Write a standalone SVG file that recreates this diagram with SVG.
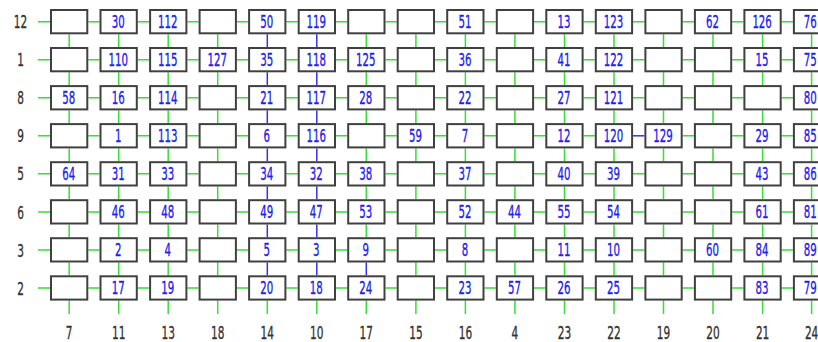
<svg xmlns="http://www.w3.org/2000/svg" width="818" height="342" viewBox="0 0 818 342">
<style>
.g{stroke:#33e033;stroke-width:1.5;fill:none}
.bl{stroke:#3333ee;stroke-width:1.5;fill:none}
.b{fill:#fff;stroke:#404040;stroke-width:2}
.t{font-family:"DejaVu Sans","Liberation Sans",sans-serif;font-size:17px;fill:#2020ee;stroke:#2020ee;stroke-width:.35;text-anchor:middle}
.l{font-family:"DejaVu Sans","Liberation Sans",sans-serif;font-size:17px;fill:#333;stroke:#333;stroke-width:.35;text-anchor:middle}
</style>
<rect width="818" height="342" fill="#fff"/>
<g id="connectors">
<path class="g" d="M38 21.7H50M88.3 21.7H99.5M137.8 21.7H149.1M187.4 21.7H198.6M236.9 21.7H248.1M286.4 21.7H297.7M336 21.7H347.2M385.5 21.7H396.7M435 21.7H446.2M484.5 21.7H495.8M534.1 21.7H545.3M583.6 21.7H594.8M633.1 21.7H644.4M682.7 21.7H693.9M732.2 21.7H743.4M781.7 21.7H792.9"/>
<path class="g" d="M38 59.7H50M88.3 59.7H99.5M137.8 59.7H149.1M187.4 59.7H198.6M236.9 59.7H248.1M286.4 59.7H297.7M336 59.7H347.2M385.5 59.7H396.7M435 59.7H446.2M484.5 59.7H495.8M534.1 59.7H545.3M583.6 59.7H594.8M633.1 59.7H644.4M682.7 59.7H693.9M732.2 59.7H743.4M781.7 59.7H792.9"/>
<path class="g" d="M38 97.7H50M88.3 97.7H99.5M137.8 97.7H149.1M187.4 97.7H198.6M236.9 97.7H248.1M286.4 97.7H297.7M336 97.7H347.2M385.5 97.7H396.7M435 97.7H446.2M484.5 97.7H495.8M534.1 97.7H545.3M583.6 97.7H594.8M633.1 97.7H644.4M682.7 97.7H693.9M732.2 97.7H743.4M781.7 97.7H792.9"/>
<path class="g" d="M38 135.8H50M88.3 135.8H99.5M137.8 135.8H149.1M187.4 135.8H198.6M236.9 135.8H248.1M286.4 135.8H297.7M336 135.8H347.2M385.5 135.8H396.7M435 135.8H446.2M484.5 135.8H495.8M534.1 135.8H545.3M583.6 135.8H594.8M682.7 135.8H693.9M732.2 135.8H743.4M781.7 135.8H792.9"/>
<path class="g" d="M38 173.8H50M88.3 173.8H99.5M137.8 173.8H149.1M187.4 173.8H198.6M236.9 173.8H248.1M286.4 173.8H297.7M336 173.8H347.2M385.5 173.8H396.7M435 173.8H446.2M484.5 173.8H495.8M534.1 173.8H545.3M583.6 173.8H594.8M633.1 173.8H644.4M682.7 173.8H693.9M732.2 173.8H743.4M781.7 173.8H792.9"/>
<path class="g" d="M38 211.9H50M88.3 211.9H99.5M137.8 211.9H149.1M187.4 211.9H198.6M236.9 211.9H248.1M286.4 211.9H297.7M336 211.9H347.2M385.5 211.9H396.7M435 211.9H446.2M484.5 211.9H495.8M534.1 211.9H545.3M583.6 211.9H594.8M633.1 211.9H644.4M682.7 211.9H693.9M732.2 211.9H743.4M781.7 211.9H792.9"/>
<path class="g" d="M38 249.9H50M88.3 249.9H99.5M137.8 249.9H149.1M187.4 249.9H198.6M236.9 249.9H248.1M286.4 249.9H297.7M336 249.9H347.2M385.5 249.9H396.7M435 249.9H446.2M484.5 249.9H495.8M534.1 249.9H545.3M583.6 249.9H594.8M633.1 249.9H644.4M682.7 249.9H693.9M732.2 249.9H743.4M781.7 249.9H792.9"/>
<path class="g" d="M38 287.9H50M88.3 287.9H99.5M137.8 287.9H149.1M187.4 287.9H198.6M236.9 287.9H248.1M286.4 287.9H297.7M336 287.9H347.2M385.5 287.9H396.7M435 287.9H446.2M484.5 287.9H495.8M534.1 287.9H545.3M583.6 287.9H594.8M633.1 287.9H644.4M682.7 287.9H693.9M732.2 287.9H743.4M781.7 287.9H792.9"/>
<path class="bl" d="M633.1 135.8H644.4"/>
<path class="g" d="M69.2 34.3V47M69.2 72.3V85.1M69.2 110.4V123.1M69.2 148.4V161.2M69.2 186.5V199.2M69.2 224.5V237.2M69.2 262.5V275.3M69.2 300.6V314"/>
<path class="g" d="M118.7 34.3V47M118.7 72.3V85.1M118.7 110.4V123.1M118.7 148.4V161.2M118.7 186.5V199.2M118.7 224.5V237.2M118.7 262.5V275.3M118.7 300.6V314"/>
<path class="g" d="M168.2 34.3V47M168.2 72.3V85.1M168.2 110.4V123.1M168.2 148.4V161.2M168.2 186.5V199.2M168.2 224.5V237.2M168.2 262.5V275.3M168.2 300.6V314"/>
<path class="g" d="M217.7 34.3V47M217.7 72.3V85.1M217.7 110.4V123.1M217.7 148.4V161.2M217.7 186.5V199.2M217.7 224.5V237.2M217.7 262.5V275.3M217.7 300.6V314"/>
<path class="bl" d="M267.3 34.3V47M267.3 72.3V85.1M267.3 110.4V123.1M267.3 148.4V161.2M267.3 186.5V199.2M267.3 224.5V237.2M267.3 262.5V275.3"/>
<path class="g" d="M267.3 300.6V314"/>
<path class="bl" d="M316.8 34.3V47M316.8 72.3V85.1M316.8 110.4V123.1M316.8 148.4V161.2M316.8 186.5V199.2M316.8 224.5V237.2M316.8 262.5V275.3"/>
<path class="g" d="M316.8 300.6V314"/>
<path class="g" d="M366.3 34.3V47M366.3 72.3V85.1M366.3 110.4V123.1M366.3 148.4V161.2M366.3 186.5V199.2M366.3 224.5V237.2M366.3 300.6V314"/>
<path class="bl" d="M366.3 262.5V275.3"/>
<path class="g" d="M415.9 34.3V47M415.9 72.3V85.1M415.9 110.4V123.1M415.9 148.4V161.2M415.9 186.5V199.2M415.9 224.5V237.2M415.9 262.5V275.3M415.9 300.6V314"/>
<path class="g" d="M465.4 34.3V47M465.4 72.3V85.1M465.4 110.4V123.1M465.4 148.4V161.2M465.4 186.5V199.2M465.4 224.5V237.2M465.4 262.5V275.3M465.4 300.6V314"/>
<path class="g" d="M514.9 34.3V47M514.9 72.3V85.1M514.9 110.4V123.1M514.9 148.4V161.2M514.9 186.5V199.2M514.9 224.5V237.2M514.9 262.5V275.3M514.9 300.6V314"/>
<path class="g" d="M564.5 34.3V47M564.5 72.3V85.1M564.5 110.4V123.1M564.5 148.4V161.2M564.5 186.5V199.2M564.5 224.5V237.2M564.5 262.5V275.3M564.5 300.6V314"/>
<path class="g" d="M614 34.3V47M614 72.3V85.1M614 110.4V123.1M614 148.4V161.2M614 186.5V199.2M614 224.5V237.2M614 262.5V275.3M614 300.6V314"/>
<path class="g" d="M663.5 34.3V47M663.5 72.3V85.1M663.5 110.4V123.1M663.5 148.4V161.2M663.5 186.5V199.2M663.5 224.5V237.2M663.5 262.5V275.3M663.5 300.6V314"/>
<path class="g" d="M713 34.3V47M713 72.3V85.1M713 110.4V123.1M713 148.4V161.2M713 186.5V199.2M713 224.5V237.2M713 262.5V275.3M713 300.6V314"/>
<path class="g" d="M762.6 34.3V47M762.6 72.3V85.1M762.6 110.4V123.1M762.6 148.4V161.2M762.6 186.5V199.2M762.6 224.5V237.2M762.6 262.5V275.3M762.6 300.6V314"/>
<path class="g" d="M811.6 34.3V47M811.6 72.3V85.1M811.6 110.4V123.1M811.6 148.4V161.2M811.6 186.5V199.2M811.6 224.5V237.2M811.6 262.5V275.3M811.6 300.6V314"/>
</g>
<g id="nodes">
<g id="n-12-7"><rect class="b" x="51" y="10" width="36.3" height="23.3"/></g>
<g id="n-12-11"><rect class="b" x="100.5" y="10" width="36.3" height="23.3"/><text class="t" transform="matrix(.6 0 0 1 118.2 27.9)">30</text></g>
<g id="n-12-13"><rect class="b" x="150.1" y="10" width="36.3" height="23.3"/><text class="t" transform="matrix(.6 0 0 1 167.7 27.9)">112</text></g>
<g id="n-12-18"><rect class="b" x="199.6" y="10" width="36.3" height="23.3"/></g>
<g id="n-12-14"><rect class="b" x="249.1" y="10" width="36.3" height="23.3"/><text class="t" transform="matrix(.6 0 0 1 266.8 27.9)">50</text></g>
<g id="n-12-10"><rect class="b" x="298.7" y="10" width="36.3" height="23.3"/><text class="t" transform="matrix(.6 0 0 1 316.3 27.9)">119</text></g>
<g id="n-12-17"><rect class="b" x="348.2" y="10" width="36.3" height="23.3"/></g>
<g id="n-12-15"><rect class="b" x="397.7" y="10" width="36.3" height="23.3"/></g>
<g id="n-12-16"><rect class="b" x="447.2" y="10" width="36.3" height="23.3"/><text class="t" transform="matrix(.6 0 0 1 464.9 27.9)">51</text></g>
<g id="n-12-4"><rect class="b" x="496.8" y="10" width="36.3" height="23.3"/></g>
<g id="n-12-23"><rect class="b" x="546.3" y="10" width="36.3" height="23.3"/><text class="t" transform="matrix(.6 0 0 1 564 27.9)">13</text></g>
<g id="n-12-22"><rect class="b" x="595.8" y="10" width="36.3" height="23.3"/><text class="t" transform="matrix(.6 0 0 1 613.5 27.9)">123</text></g>
<g id="n-12-19"><rect class="b" x="645.4" y="10" width="36.3" height="23.3"/></g>
<g id="n-12-20"><rect class="b" x="694.9" y="10" width="36.3" height="23.3"/><text class="t" transform="matrix(.6 0 0 1 712.5 27.9)">62</text></g>
<g id="n-12-21"><rect class="b" x="744.4" y="10" width="36.3" height="23.3"/><text class="t" transform="matrix(.6 0 0 1 762.1 27.9)">126</text></g>
<g id="n-12-24"><rect class="b" x="793.9" y="10" width="36.3" height="23.3"/><text class="t" transform="matrix(.6 0 0 1 810.3 27.9)">76</text></g>

<g id="n-1-7"><rect class="b" x="51" y="48" width="36.3" height="23.3"/></g>
<g id="n-1-11"><rect class="b" x="100.5" y="48" width="36.3" height="23.3"/><text class="t" transform="matrix(.6 0 0 1 118.2 65.9)">110</text></g>
<g id="n-1-13"><rect class="b" x="150.1" y="48" width="36.3" height="23.3"/><text class="t" transform="matrix(.6 0 0 1 167.7 65.9)">115</text></g>
<g id="n-1-18"><rect class="b" x="199.6" y="48" width="36.3" height="23.3"/><text class="t" transform="matrix(.6 0 0 1 217.2 65.9)">127</text></g>
<g id="n-1-14"><rect class="b" x="249.1" y="48" width="36.3" height="23.3"/><text class="t" transform="matrix(.6 0 0 1 266.8 65.9)">35</text></g>
<g id="n-1-10"><rect class="b" x="298.7" y="48" width="36.3" height="23.3"/><text class="t" transform="matrix(.6 0 0 1 316.3 65.9)">118</text></g>
<g id="n-1-17"><rect class="b" x="348.2" y="48" width="36.3" height="23.3"/><text class="t" transform="matrix(.6 0 0 1 365.8 65.9)">125</text></g>
<g id="n-1-15"><rect class="b" x="397.7" y="48" width="36.3" height="23.3"/></g>
<g id="n-1-16"><rect class="b" x="447.2" y="48" width="36.3" height="23.3"/><text class="t" transform="matrix(.6 0 0 1 464.9 65.9)">36</text></g>
<g id="n-1-4"><rect class="b" x="496.8" y="48" width="36.3" height="23.3"/></g>
<g id="n-1-23"><rect class="b" x="546.3" y="48" width="36.3" height="23.3"/><text class="t" transform="matrix(.6 0 0 1 564 65.9)">41</text></g>
<g id="n-1-22"><rect class="b" x="595.8" y="48" width="36.3" height="23.3"/><text class="t" transform="matrix(.6 0 0 1 613.5 65.9)">122</text></g>
<g id="n-1-19"><rect class="b" x="645.4" y="48" width="36.3" height="23.3"/></g>
<g id="n-1-20"><rect class="b" x="694.9" y="48" width="36.3" height="23.3"/></g>
<g id="n-1-21"><rect class="b" x="744.4" y="48" width="36.3" height="23.3"/><text class="t" transform="matrix(.6 0 0 1 762.1 65.9)">15</text></g>
<g id="n-1-24"><rect class="b" x="793.9" y="48" width="36.3" height="23.3"/><text class="t" transform="matrix(.6 0 0 1 810.3 65.9)">75</text></g>

<g id="n-8-7"><rect class="b" x="51" y="86.1" width="36.3" height="23.3"/><text class="t" transform="matrix(.6 0 0 1 68.7 103.9)">58</text></g>
<g id="n-8-11"><rect class="b" x="100.5" y="86.1" width="36.3" height="23.3"/><text class="t" transform="matrix(.6 0 0 1 118.2 103.9)">16</text></g>
<g id="n-8-13"><rect class="b" x="150.1" y="86.1" width="36.3" height="23.3"/><text class="t" transform="matrix(.6 0 0 1 167.7 103.9)">114</text></g>
<g id="n-8-18"><rect class="b" x="199.6" y="86.1" width="36.3" height="23.3"/></g>
<g id="n-8-14"><rect class="b" x="249.1" y="86.1" width="36.3" height="23.3"/><text class="t" transform="matrix(.6 0 0 1 266.8 103.9)">21</text></g>
<g id="n-8-10"><rect class="b" x="298.7" y="86.1" width="36.3" height="23.3"/><text class="t" transform="matrix(.6 0 0 1 316.3 103.9)">117</text></g>
<g id="n-8-17"><rect class="b" x="348.2" y="86.1" width="36.3" height="23.3"/><text class="t" transform="matrix(.6 0 0 1 365.8 103.9)">28</text></g>
<g id="n-8-15"><rect class="b" x="397.7" y="86.1" width="36.3" height="23.3"/></g>
<g id="n-8-16"><rect class="b" x="447.2" y="86.1" width="36.3" height="23.3"/><text class="t" transform="matrix(.6 0 0 1 464.9 103.9)">22</text></g>
<g id="n-8-4"><rect class="b" x="496.8" y="86.1" width="36.3" height="23.3"/></g>
<g id="n-8-23"><rect class="b" x="546.3" y="86.1" width="36.3" height="23.3"/><text class="t" transform="matrix(.6 0 0 1 564 103.9)">27</text></g>
<g id="n-8-22"><rect class="b" x="595.8" y="86.1" width="36.3" height="23.3"/><text class="t" transform="matrix(.6 0 0 1 613.5 103.9)">121</text></g>
<g id="n-8-19"><rect class="b" x="645.4" y="86.1" width="36.3" height="23.3"/></g>
<g id="n-8-20"><rect class="b" x="694.9" y="86.1" width="36.3" height="23.3"/></g>
<g id="n-8-21"><rect class="b" x="744.4" y="86.1" width="36.3" height="23.3"/></g>
<g id="n-8-24"><rect class="b" x="793.9" y="86.1" width="36.3" height="23.3"/><text class="t" transform="matrix(.6 0 0 1 810.3 103.9)">80</text></g>

<g id="n-9-7"><rect class="b" x="51" y="124.1" width="36.3" height="23.3"/></g>
<g id="n-9-11"><rect class="b" x="100.5" y="124.1" width="36.3" height="23.3"/><text class="t" transform="matrix(.6 0 0 1 118.2 142)">1</text></g>
<g id="n-9-13"><rect class="b" x="150.1" y="124.1" width="36.3" height="23.3"/><text class="t" transform="matrix(.6 0 0 1 167.7 142)">113</text></g>
<g id="n-9-18"><rect class="b" x="199.6" y="124.1" width="36.3" height="23.3"/></g>
<g id="n-9-14"><rect class="b" x="249.1" y="124.1" width="36.3" height="23.3"/><text class="t" transform="matrix(.6 0 0 1 266.8 142)">6</text></g>
<g id="n-9-10"><rect class="b" x="298.7" y="124.1" width="36.3" height="23.3"/><text class="t" transform="matrix(.6 0 0 1 316.3 142)">116</text></g>
<g id="n-9-17"><rect class="b" x="348.2" y="124.1" width="36.3" height="23.3"/></g>
<g id="n-9-15"><rect class="b" x="397.7" y="124.1" width="36.3" height="23.3"/><text class="t" transform="matrix(.6 0 0 1 415.4 142)">59</text></g>
<g id="n-9-16"><rect class="b" x="447.2" y="124.1" width="36.3" height="23.3"/><text class="t" transform="matrix(.6 0 0 1 464.9 142)">7</text></g>
<g id="n-9-4"><rect class="b" x="496.8" y="124.1" width="36.3" height="23.3"/></g>
<g id="n-9-23"><rect class="b" x="546.3" y="124.1" width="36.3" height="23.3"/><text class="t" transform="matrix(.6 0 0 1 564 142)">12</text></g>
<g id="n-9-22"><rect class="b" x="595.8" y="124.1" width="36.3" height="23.3"/><text class="t" transform="matrix(.6 0 0 1 613.5 142)">120</text></g>
<g id="n-9-19"><rect class="b" x="645.4" y="124.1" width="36.3" height="23.3"/><text class="t" transform="matrix(.6 0 0 1 663 142)">129</text></g>
<g id="n-9-20"><rect class="b" x="694.9" y="124.1" width="36.3" height="23.3"/></g>
<g id="n-9-21"><rect class="b" x="744.4" y="124.1" width="36.3" height="23.3"/><text class="t" transform="matrix(.6 0 0 1 762.1 142)">29</text></g>
<g id="n-9-24"><rect class="b" x="793.9" y="124.1" width="36.3" height="23.3"/><text class="t" transform="matrix(.6 0 0 1 810.3 142)">85</text></g>

<g id="n-5-7"><rect class="b" x="51" y="162.2" width="36.3" height="23.3"/><text class="t" transform="matrix(.6 0 0 1 68.7 180)">64</text></g>
<g id="n-5-11"><rect class="b" x="100.5" y="162.2" width="36.3" height="23.3"/><text class="t" transform="matrix(.6 0 0 1 118.2 180)">31</text></g>
<g id="n-5-13"><rect class="b" x="150.1" y="162.2" width="36.3" height="23.3"/><text class="t" transform="matrix(.6 0 0 1 167.7 180)">33</text></g>
<g id="n-5-18"><rect class="b" x="199.6" y="162.2" width="36.3" height="23.3"/></g>
<g id="n-5-14"><rect class="b" x="249.1" y="162.2" width="36.3" height="23.3"/><text class="t" transform="matrix(.6 0 0 1 266.8 180)">34</text></g>
<g id="n-5-10"><rect class="b" x="298.7" y="162.2" width="36.3" height="23.3"/><text class="t" transform="matrix(.6 0 0 1 316.3 180)">32</text></g>
<g id="n-5-17"><rect class="b" x="348.2" y="162.2" width="36.3" height="23.3"/><text class="t" transform="matrix(.6 0 0 1 365.8 180)">38</text></g>
<g id="n-5-15"><rect class="b" x="397.7" y="162.2" width="36.3" height="23.3"/></g>
<g id="n-5-16"><rect class="b" x="447.2" y="162.2" width="36.3" height="23.3"/><text class="t" transform="matrix(.6 0 0 1 464.9 180)">37</text></g>
<g id="n-5-4"><rect class="b" x="496.8" y="162.2" width="36.3" height="23.3"/></g>
<g id="n-5-23"><rect class="b" x="546.3" y="162.2" width="36.3" height="23.3"/><text class="t" transform="matrix(.6 0 0 1 564 180)">40</text></g>
<g id="n-5-22"><rect class="b" x="595.8" y="162.2" width="36.3" height="23.3"/><text class="t" transform="matrix(.6 0 0 1 613.5 180)">39</text></g>
<g id="n-5-19"><rect class="b" x="645.4" y="162.2" width="36.3" height="23.3"/></g>
<g id="n-5-20"><rect class="b" x="694.9" y="162.2" width="36.3" height="23.3"/></g>
<g id="n-5-21"><rect class="b" x="744.4" y="162.2" width="36.3" height="23.3"/><text class="t" transform="matrix(.6 0 0 1 762.1 180)">43</text></g>
<g id="n-5-24"><rect class="b" x="793.9" y="162.2" width="36.3" height="23.3"/><text class="t" transform="matrix(.6 0 0 1 810.3 180)">86</text></g>

<g id="n-6-7"><rect class="b" x="51" y="200.2" width="36.3" height="23.3"/></g>
<g id="n-6-11"><rect class="b" x="100.5" y="200.2" width="36.3" height="23.3"/><text class="t" transform="matrix(.6 0 0 1 118.2 218.1)">46</text></g>
<g id="n-6-13"><rect class="b" x="150.1" y="200.2" width="36.3" height="23.3"/><text class="t" transform="matrix(.6 0 0 1 167.7 218.1)">48</text></g>
<g id="n-6-18"><rect class="b" x="199.6" y="200.2" width="36.3" height="23.3"/></g>
<g id="n-6-14"><rect class="b" x="249.1" y="200.2" width="36.3" height="23.3"/><text class="t" transform="matrix(.6 0 0 1 266.8 218.1)">49</text></g>
<g id="n-6-10"><rect class="b" x="298.7" y="200.2" width="36.3" height="23.3"/><text class="t" transform="matrix(.6 0 0 1 316.3 218.1)">47</text></g>
<g id="n-6-17"><rect class="b" x="348.2" y="200.2" width="36.3" height="23.3"/><text class="t" transform="matrix(.6 0 0 1 365.8 218.1)">53</text></g>
<g id="n-6-15"><rect class="b" x="397.7" y="200.2" width="36.3" height="23.3"/></g>
<g id="n-6-16"><rect class="b" x="447.2" y="200.2" width="36.3" height="23.3"/><text class="t" transform="matrix(.6 0 0 1 464.9 218.1)">52</text></g>
<g id="n-6-4"><rect class="b" x="496.8" y="200.2" width="36.3" height="23.3"/><text class="t" transform="matrix(.6 0 0 1 514.4 218.1)">44</text></g>
<g id="n-6-23"><rect class="b" x="546.3" y="200.2" width="36.3" height="23.3"/><text class="t" transform="matrix(.6 0 0 1 564 218.1)">55</text></g>
<g id="n-6-22"><rect class="b" x="595.8" y="200.2" width="36.3" height="23.3"/><text class="t" transform="matrix(.6 0 0 1 613.5 218.1)">54</text></g>
<g id="n-6-19"><rect class="b" x="645.4" y="200.2" width="36.3" height="23.3"/></g>
<g id="n-6-20"><rect class="b" x="694.9" y="200.2" width="36.3" height="23.3"/></g>
<g id="n-6-21"><rect class="b" x="744.4" y="200.2" width="36.3" height="23.3"/><text class="t" transform="matrix(.6 0 0 1 762.1 218.1)">61</text></g>
<g id="n-6-24"><rect class="b" x="793.9" y="200.2" width="36.3" height="23.3"/><text class="t" transform="matrix(.6 0 0 1 810.3 218.1)">81</text></g>

<g id="n-3-7"><rect class="b" x="51" y="238.2" width="36.3" height="23.3"/></g>
<g id="n-3-11"><rect class="b" x="100.5" y="238.2" width="36.3" height="23.3"/><text class="t" transform="matrix(.6 0 0 1 118.2 256.1)">2</text></g>
<g id="n-3-13"><rect class="b" x="150.1" y="238.2" width="36.3" height="23.3"/><text class="t" transform="matrix(.6 0 0 1 167.7 256.1)">4</text></g>
<g id="n-3-18"><rect class="b" x="199.6" y="238.2" width="36.3" height="23.3"/></g>
<g id="n-3-14"><rect class="b" x="249.1" y="238.2" width="36.3" height="23.3"/><text class="t" transform="matrix(.6 0 0 1 266.8 256.1)">5</text></g>
<g id="n-3-10"><rect class="b" x="298.7" y="238.2" width="36.3" height="23.3"/><text class="t" transform="matrix(.6 0 0 1 316.3 256.1)">3</text></g>
<g id="n-3-17"><rect class="b" x="348.2" y="238.2" width="36.3" height="23.3"/><text class="t" transform="matrix(.6 0 0 1 365.8 256.1)">9</text></g>
<g id="n-3-15"><rect class="b" x="397.7" y="238.2" width="36.3" height="23.3"/></g>
<g id="n-3-16"><rect class="b" x="447.2" y="238.2" width="36.3" height="23.3"/><text class="t" transform="matrix(.6 0 0 1 464.9 256.1)">8</text></g>
<g id="n-3-4"><rect class="b" x="496.8" y="238.2" width="36.3" height="23.3"/></g>
<g id="n-3-23"><rect class="b" x="546.3" y="238.2" width="36.3" height="23.3"/><text class="t" transform="matrix(.6 0 0 1 564 256.1)">11</text></g>
<g id="n-3-22"><rect class="b" x="595.8" y="238.2" width="36.3" height="23.3"/><text class="t" transform="matrix(.6 0 0 1 613.5 256.1)">10</text></g>
<g id="n-3-19"><rect class="b" x="645.4" y="238.2" width="36.3" height="23.3"/></g>
<g id="n-3-20"><rect class="b" x="694.9" y="238.2" width="36.3" height="23.3"/><text class="t" transform="matrix(.6 0 0 1 712.5 256.1)">60</text></g>
<g id="n-3-21"><rect class="b" x="744.4" y="238.2" width="36.3" height="23.3"/><text class="t" transform="matrix(.6 0 0 1 762.1 256.1)">84</text></g>
<g id="n-3-24"><rect class="b" x="793.9" y="238.2" width="36.3" height="23.3"/><text class="t" transform="matrix(.6 0 0 1 810.3 256.1)">89</text></g>

<g id="n-2-7"><rect class="b" x="51" y="276.3" width="36.3" height="23.3"/></g>
<g id="n-2-11"><rect class="b" x="100.5" y="276.3" width="36.3" height="23.3"/><text class="t" transform="matrix(.6 0 0 1 118.2 294.1)">17</text></g>
<g id="n-2-13"><rect class="b" x="150.1" y="276.3" width="36.3" height="23.3"/><text class="t" transform="matrix(.6 0 0 1 167.7 294.1)">19</text></g>
<g id="n-2-18"><rect class="b" x="199.6" y="276.3" width="36.3" height="23.3"/></g>
<g id="n-2-14"><rect class="b" x="249.1" y="276.3" width="36.3" height="23.3"/><text class="t" transform="matrix(.6 0 0 1 266.8 294.1)">20</text></g>
<g id="n-2-10"><rect class="b" x="298.7" y="276.3" width="36.3" height="23.3"/><text class="t" transform="matrix(.6 0 0 1 316.3 294.1)">18</text></g>
<g id="n-2-17"><rect class="b" x="348.2" y="276.3" width="36.3" height="23.3"/><text class="t" transform="matrix(.6 0 0 1 365.8 294.1)">24</text></g>
<g id="n-2-15"><rect class="b" x="397.7" y="276.3" width="36.3" height="23.3"/></g>
<g id="n-2-16"><rect class="b" x="447.2" y="276.3" width="36.3" height="23.3"/><text class="t" transform="matrix(.6 0 0 1 464.9 294.1)">23</text></g>
<g id="n-2-4"><rect class="b" x="496.8" y="276.3" width="36.3" height="23.3"/><text class="t" transform="matrix(.6 0 0 1 514.4 294.1)">57</text></g>
<g id="n-2-23"><rect class="b" x="546.3" y="276.3" width="36.3" height="23.3"/><text class="t" transform="matrix(.6 0 0 1 564 294.1)">26</text></g>
<g id="n-2-22"><rect class="b" x="595.8" y="276.3" width="36.3" height="23.3"/><text class="t" transform="matrix(.6 0 0 1 613.5 294.1)">25</text></g>
<g id="n-2-19"><rect class="b" x="645.4" y="276.3" width="36.3" height="23.3"/></g>
<g id="n-2-20"><rect class="b" x="694.9" y="276.3" width="36.3" height="23.3"/></g>
<g id="n-2-21"><rect class="b" x="744.4" y="276.3" width="36.3" height="23.3"/><text class="t" transform="matrix(.6 0 0 1 762.1 294.1)">83</text></g>
<g id="n-2-24"><rect class="b" x="793.9" y="276.3" width="36.3" height="23.3"/><text class="t" transform="matrix(.6 0 0 1 810.3 294.1)">79</text></g>
</g>
<g id="row-labels">
<text class="l" transform="matrix(.62 0 0 1 20.5 28.3)">12</text>
<text class="l" transform="matrix(.62 0 0 1 20.5 66.3)">1</text>
<text class="l" transform="matrix(.62 0 0 1 20.5 104.3)">8</text>
<text class="l" transform="matrix(.62 0 0 1 20.5 142.4)">9</text>
<text class="l" transform="matrix(.62 0 0 1 20.5 180.4)">5</text>
<text class="l" transform="matrix(.62 0 0 1 20.5 218.5)">6</text>
<text class="l" transform="matrix(.62 0 0 1 20.5 256.5)">3</text>
<text class="l" transform="matrix(.62 0 0 1 20.5 294.5)">2</text>
</g>
<g id="column-labels">
<text class="l" transform="matrix(.62 0 0 1 69.2 339)">7</text>
<text class="l" transform="matrix(.62 0 0 1 118.7 339)">11</text>
<text class="l" transform="matrix(.62 0 0 1 168.2 339)">13</text>
<text class="l" transform="matrix(.62 0 0 1 217.7 339)">18</text>
<text class="l" transform="matrix(.62 0 0 1 267.3 339)">14</text>
<text class="l" transform="matrix(.62 0 0 1 316.8 339)">10</text>
<text class="l" transform="matrix(.62 0 0 1 366.3 339)">17</text>
<text class="l" transform="matrix(.62 0 0 1 415.9 339)">15</text>
<text class="l" transform="matrix(.62 0 0 1 465.4 339)">16</text>
<text class="l" transform="matrix(.62 0 0 1 514.9 339)">4</text>
<text class="l" transform="matrix(.62 0 0 1 564.5 339)">23</text>
<text class="l" transform="matrix(.62 0 0 1 614 339)">22</text>
<text class="l" transform="matrix(.62 0 0 1 663.5 339)">19</text>
<text class="l" transform="matrix(.62 0 0 1 713 339)">20</text>
<text class="l" transform="matrix(.62 0 0 1 762.6 339)">21</text>
<text class="l" transform="matrix(.62 0 0 1 811.6 339)">24</text>
</g>
</svg>
